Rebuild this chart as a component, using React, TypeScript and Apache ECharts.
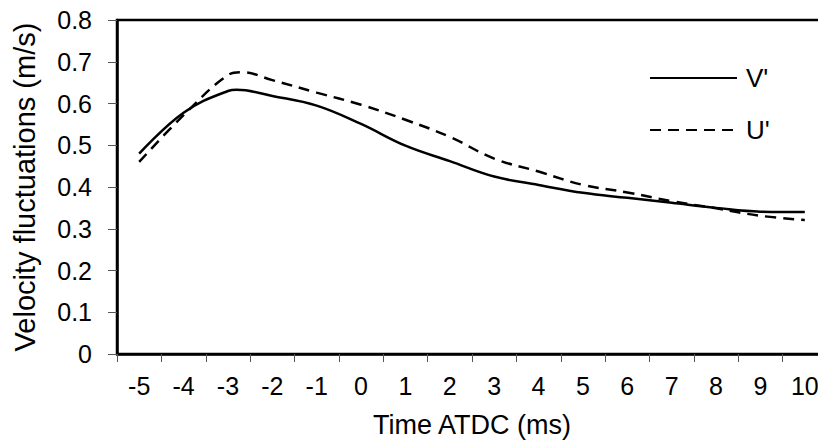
import React, { useEffect, useRef } from "react";
import * as echarts from "echarts";

const xTickLabels = ["-5", "-4", "-3", "-2", "-1", "0", "1", "2", "3", "4", "5", "6", "7", "8", "9", "10"];
const yTickLabels = ["0", "0.1", "0.2", "0.3", "0.4", "0.5", "0.6", "0.7", "0.8"];

const timeV = [-5, -4, -3, -2.8, -2, -1, 0, 1, 2, 3, 4, 5, 6, 7, 8, 9, 10];
const valuesV = [0.48, 0.578, 0.63, 0.633, 0.618, 0.595, 0.551, 0.499, 0.462, 0.425, 0.405, 0.386, 0.374, 0.362, 0.35, 0.341, 0.34];

const timeU = [-5, -4, -3, -2.7, -2, -1, 0, 1, 2, 3, 4, 5, 6, 7, 8, 9, 10];
const valuesU = [0.46, 0.572, 0.668, 0.675, 0.656, 0.626, 0.597, 0.561, 0.52, 0.468, 0.437, 0.405, 0.387, 0.366, 0.349, 0.331, 0.321];

const seriesNames = ["V'", "U'"];
const FONT = "Liberation Sans, Arial, sans-serif";

export default function App() {
  const ref = useRef<HTMLDivElement>(null);
  useEffect(() => {
    if (!ref.current) return;
    const chart = echarts.init(ref.current, undefined, { renderer: "svg" });
    chart.setOption({
      animation: false,
      backgroundColor: "#fff",
      textStyle: { fontFamily: FONT, color: "#000" },
      grid: {
        left: 117,
        top: 20,
        bottom: 88,
        right: 9,
        show: true,
        borderColor: "#000",
        borderWidth: 2.5,
        containLabel: false,
      },
      legend: {
        orient: "vertical",
        left: 649,
        top: 64,
        padding: 0,
        itemWidth: 87,
        itemHeight: 14,
        itemGap: 24,
        data: seriesNames,
        itemStyle: { opacity: 0, color: "rgba(0,0,0,0)", borderWidth: 0 },
        textStyle: { fontFamily: FONT, fontSize: 26, color: "#000", lineHeight: 28, padding: [0, 0, 0, 4] },
      },
      xAxis: [
        {
          type: "category",
          data: xTickLabels,
          boundaryGap: true,
          axisLine: { onZero: false, lineStyle: { color: "#000", width: 2.5 } },
          axisTick: { show: true, inside: false, length: 8, alignWithLabel: false, lineStyle: { color: "#555", width: 1 } },
          axisLabel: { fontFamily: FONT, fontSize: 25, color: "#000", margin: 19, interval: 0 },
          splitLine: { show: false },
          name: "Time ATDC (ms)",
          nameLocation: "middle",
          nameGap: 57,
          nameTextStyle: { fontFamily: FONT, fontSize: 27, color: "#000" },
        },
        {
          type: "value",
          min: -5.5,
          max: 10.5,
          show: false,
          axisLine: { show: false, onZero: false },
          axisTick: { show: false },
          axisLabel: { show: false },
          splitLine: { show: false },
        },
      ],
      yAxis: {
        type: "value",
        min: 0,
        max: 0.8,
        interval: 0.1,
        axisLine: { show: true, onZero: false, lineStyle: { color: "#000", width: 2.5 } },
        axisTick: { show: true, inside: false, length: 9, lineStyle: { color: "#555", width: 1 } },
        axisLabel: {
          fontFamily: FONT,
          fontSize: 25,
          color: "#000",
          margin: 25,
          formatter: (v: number) => yTickLabels[Math.round(v * 10)] ?? "",
        },
        splitLine: { show: false },
        name: "Velocity fluctuations (m/s)",
        nameLocation: "middle",
        nameRotate: 90,
        nameGap: 78,
        nameTextStyle: { fontFamily: FONT, fontSize: 29, color: "#000" },
      },
      series: [
        {
          name: seriesNames[0],
          type: "line",
          xAxisIndex: 1,
          data: timeV.map((t, i) => [t, valuesV[i]]),
          smooth: 0.4,
          symbol: "none",
          lineStyle: { color: "#000", width: 2.5, type: "solid" },
          itemStyle: { color: "#000" },
        },
        {
          name: seriesNames[1],
          type: "line",
          xAxisIndex: 1,
          data: timeU.map((t, i) => [t, valuesU[i]]),
          smooth: 0.4,
          symbol: "none",
          lineStyle: { color: "#000", width: 2.5, type: [11, 7] },
          itemStyle: { color: "#000" },
        },
      ],
    });
    return () => chart.dispose();
  }, []);
  return (
    <div style={{ position: "fixed", left: 0, top: 0, width: 818, height: 443, overflow: "hidden", background: "#fff" }}>
      <div ref={ref} style={{ width: 836, height: 443 }} />
    </div>
  );
}
